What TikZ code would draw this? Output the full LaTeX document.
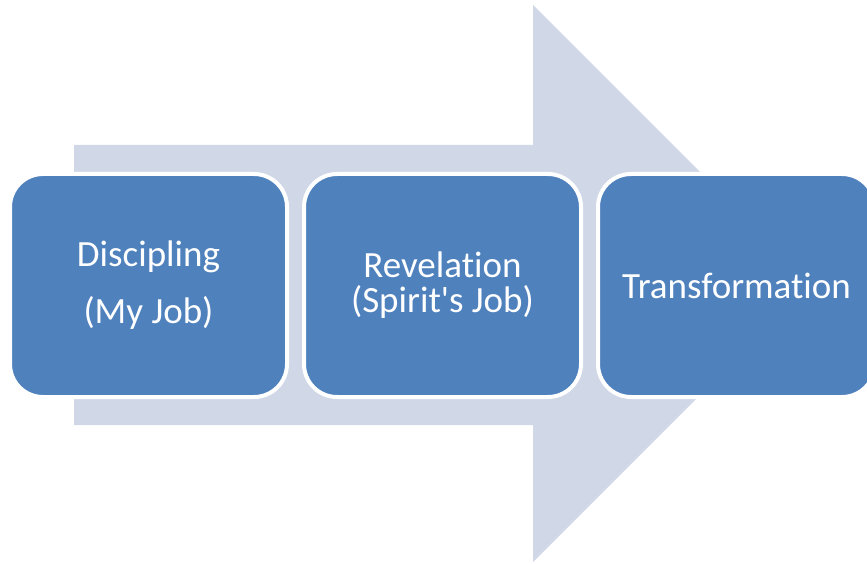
\documentclass[tikz,border=0pt]{standalone}
\usepackage{fontspec}
\newfontfamily\stepfont{Carlito}[Ligatures=NoCommon]
\usetikzlibrary{positioning}
\definecolor{stepblue}{HTML}{4F81BD}
\definecolor{arrowgrey}{HTML}{D0D8E8}

\begin{document}
\begin{tikzpicture}[x=1pt, y=-1pt,
        box/.style={rectangle, rounded corners=33pt, minimum width=277pt, minimum height=223pt, draw=white, line width=4pt, fill=stepblue, text=white, align=center, font=\stepfont\fontsize{37}{35}\selectfont}]
      \useasboundingbox (0,0) rectangle (867,564);
      % Background arrow
      \fill[arrowgrey] (74,145) -- (533,145) -- (533,5) -- (811.5,283.5) -- (533,562) -- (533,425) -- (74,425) -- cycle;
      
      % Steps
      \node[box] (disc) at (148.5,285.5) {Discipling\\[22pt](My Job)};
      \node[box] (rev) at (442.5,285.5) {Revelation\\(Spirit's Job)};
      \node[box] (trans) at (736.5,285.5) {Transformation};
    \end{tikzpicture}
\end{document}
